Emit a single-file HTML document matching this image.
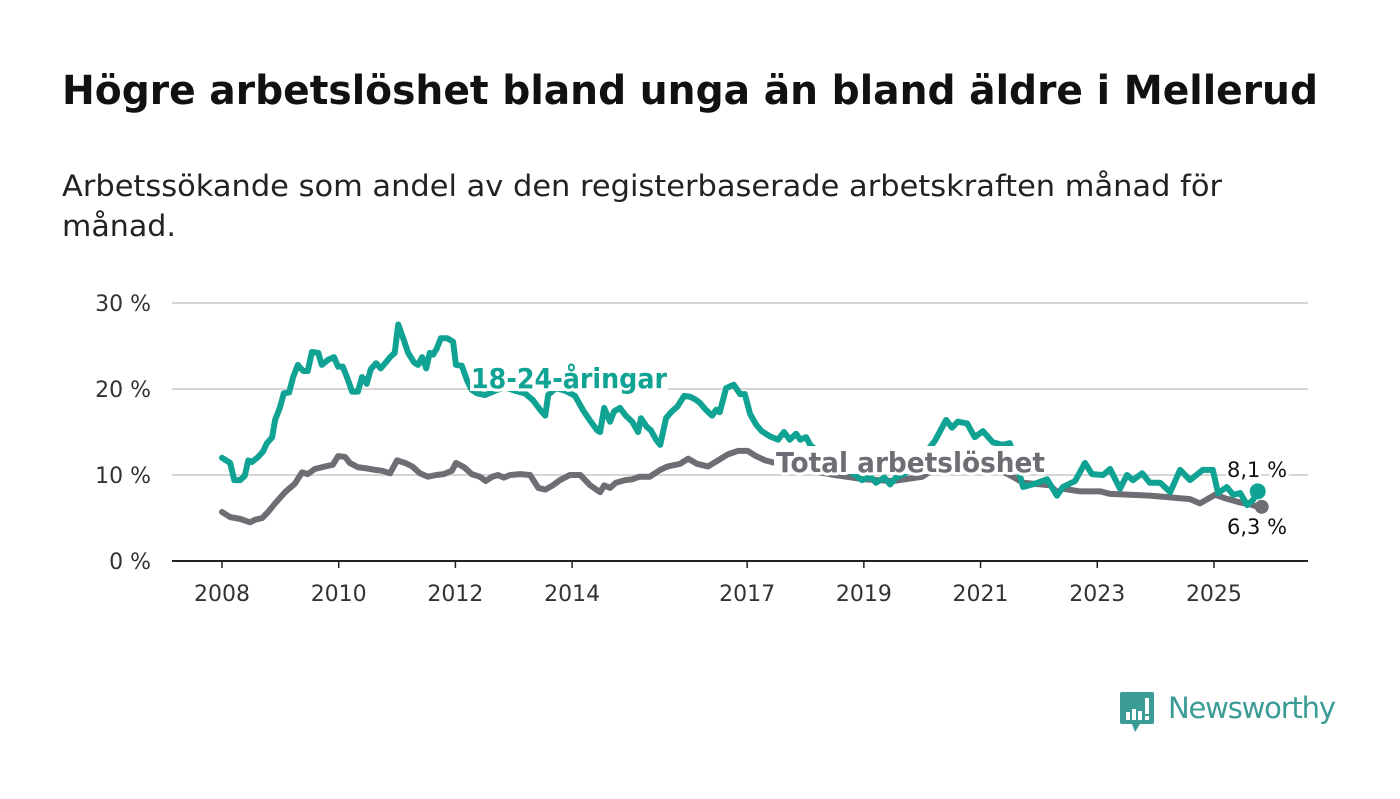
<!DOCTYPE html>
<html><head><meta charset="utf-8">
<style>
body{margin:0;background:#fff;width:1400px;height:794px;overflow:hidden;font-family:"Liberation Sans","DejaVu Sans",sans-serif;}
</style></head>
<body>
<svg id="chart" width="1400" height="794" xmlns="http://www.w3.org/2000/svg">
<text x="62" y="104" font-size="40" font-weight="bold" fill="#111" font-family="DejaVu Sans, sans-serif" textLength="1256" lengthAdjust="spacingAndGlyphs">Högre arbetslöshet bland unga än bland äldre i Mellerud</text>
<text x="62" y="196" font-size="29" fill="#222" font-family="DejaVu Sans, sans-serif" textLength="1160" lengthAdjust="spacingAndGlyphs">Arbetssökande som andel av den registerbaserade arbetskraften månad för</text>
<text x="62" y="236" font-size="29" fill="#222" font-family="DejaVu Sans, sans-serif" textLength="114" lengthAdjust="spacingAndGlyphs">månad.</text>
<g id="grid"></g><g id="series"></g><g id="labels"></g>
<g>
<path d="M1122 692 h30 a2 2 0 0 1 2 2 v28 a2 2 0 0 1 -2 2 h-12 l-5 8 l-3 -8 h-10 a2 2 0 0 1 -2 -2 v-28 a2 2 0 0 1 2 -2z" fill="#3a9c94"/>
<rect x="1126" y="712" width="4" height="8" fill="#fff"/><rect x="1132" y="709" width="4" height="11" fill="#fff"/><rect x="1138" y="711" width="4" height="9" fill="#fff"/><rect x="1145" y="698" width="4" height="16" fill="#fff"/><rect x="1145" y="716" width="4" height="4" fill="#fff"/>
<text x="1168" y="718" font-size="29" fill="#3a9c94" font-family="DejaVu Sans, sans-serif" textLength="168">Newsworthy</text>
</g>
</svg>
<script>
const yTicks=[0,10,20,30];
const xTickYears=[2008,2010,2012,2014,2017,2019,2021,2023,2025];
const youthDates=[2008.00,2008.14,2008.21,2008.31,2008.39,2008.45,2008.51,2008.62,2008.70,2008.77,2008.86,2008.91,2008.99,2009.06,2009.15,2009.22,2009.30,2009.39,2009.47,2009.54,2009.65,2009.71,2009.82,2009.92,2009.99,2010.07,2010.14,2010.23,2010.33,2010.40,2010.48,2010.55,2010.64,2010.72,2010.81,2010.88,2010.96,2011.02,2011.10,2011.19,2011.29,2011.36,2011.43,2011.50,2011.56,2011.62,2011.68,2011.75,2011.86,2011.96,2012.01,2012.11,2012.20,2012.28,2012.37,2012.51,2012.68,2012.85,2013.02,2013.19,2013.33,2013.45,2013.54,2013.59,2013.72,2013.88,2014.05,2014.19,2014.31,2014.43,2014.48,2014.55,2014.65,2014.72,2014.82,2014.92,2015.03,2015.13,2015.18,2015.28,2015.35,2015.44,2015.51,2015.61,2015.71,2015.81,2015.92,2016.02,2016.11,2016.19,2016.29,2016.40,2016.47,2016.53,2016.64,2016.77,2016.88,2016.96,2017.05,2017.15,2017.25,2017.39,2017.53,2017.63,2017.73,2017.84,2017.91,2018.01,2018.08,2018.25,2018.51,2018.73,2018.85,2018.97,2019.11,2019.21,2019.35,2019.45,2019.55,2019.71,2019.88,2020.05,2020.22,2020.41,2020.51,2020.61,2020.77,2020.90,2021.04,2021.21,2021.38,2021.50,2021.61,2021.73,2021.94,2022.14,2022.31,2022.41,2022.62,2022.79,2022.91,2023.10,2023.22,2023.39,2023.51,2023.61,2023.77,2023.90,2024.08,2024.25,2024.42,2024.59,2024.81,2024.98,2025.07,2025.22,2025.33,2025.45,2025.57,2025.67,2025.75];
const youthValues=[12.0,11.4,9.4,9.4,9.9,11.7,11.5,12.1,12.7,13.7,14.4,16.4,17.8,19.5,19.6,21.4,22.8,22.1,22.1,24.3,24.2,22.8,23.4,23.7,22.6,22.6,21.4,19.7,19.7,21.4,20.6,22.3,23.0,22.4,23.1,23.7,24.2,27.5,26.0,24.2,23.1,22.8,23.7,22.4,24.2,24.0,24.7,25.9,25.9,25.5,22.8,22.7,21.0,19.9,19.5,19.3,19.8,20.2,19.8,19.5,18.7,17.6,16.9,19.3,20.1,19.8,19.2,17.5,16.3,15.2,15.0,17.8,16.2,17.4,17.8,16.9,16.2,15.0,16.6,15.6,15.2,14.1,13.5,16.6,17.4,18.0,19.2,19.1,18.8,18.4,17.6,16.9,17.6,17.3,20.1,20.5,19.4,19.4,17.1,15.9,15.1,14.5,14.1,15.0,14.1,14.8,14.1,14.4,13.5,12.5,11.5,10.5,10.0,9.4,9.8,9.1,9.7,8.9,9.7,10.2,11.5,12.5,14.0,16.4,15.5,16.2,16.0,14.4,15.1,13.8,13.5,13.7,11.5,8.6,9.0,9.5,7.6,8.6,9.3,11.4,10.1,10.0,10.7,8.4,10.0,9.4,10.2,9.1,9.1,8.0,10.6,9.4,10.6,10.6,7.9,8.6,7.7,7.9,6.5,7.1,8.1];
const totalDates=[2008.00,2008.14,2008.31,2008.48,2008.57,2008.69,2008.79,2008.91,2009.08,2009.25,2009.37,2009.47,2009.59,2009.77,2009.90,2009.99,2010.11,2010.19,2010.33,2010.45,2010.62,2010.74,2010.88,2011.00,2011.14,2011.26,2011.39,2011.53,2011.67,2011.80,2011.94,2012.01,2012.15,2012.28,2012.42,2012.52,2012.63,2012.73,2012.83,2012.94,2013.11,2013.28,2013.42,2013.54,2013.67,2013.79,2013.96,2014.14,2014.31,2014.48,2014.55,2014.65,2014.75,2014.91,2015.03,2015.16,2015.33,2015.51,2015.64,2015.85,2015.99,2016.14,2016.33,2016.50,2016.67,2016.84,2017.01,2017.15,2017.31,2017.60,2018.00,2018.50,2019.00,2019.50,2020.00,2020.40,2020.80,2021.20,2021.50,2021.73,2022.19,2022.31,2022.41,2022.70,2023.05,2023.22,2023.56,2023.90,2024.25,2024.59,2024.76,2025.02,2025.19,2025.45,2025.62,2025.75];
const totalValues=[5.7,5.1,4.9,4.5,4.8,5.0,5.7,6.7,8.0,9.0,10.3,10.1,10.7,11.0,11.2,12.2,12.1,11.4,10.9,10.8,10.6,10.5,10.2,11.7,11.4,11.0,10.2,9.8,10.0,10.1,10.5,11.4,10.9,10.1,9.8,9.3,9.8,10.0,9.7,10.0,10.1,10.0,8.5,8.3,8.8,9.4,10.0,10.0,8.8,8.0,8.8,8.5,9.1,9.4,9.5,9.8,9.8,10.6,11.0,11.3,11.9,11.3,11.0,11.7,12.4,12.8,12.8,12.2,11.7,11.2,10.6,10.0,9.5,9.3,9.8,11.5,11.8,11.0,10.0,9.1,8.8,8.0,8.4,8.1,8.1,7.8,7.7,7.6,7.4,7.2,6.7,7.7,7.3,6.8,6.6,6.3];
const NS="http://www.w3.org/2000/svg";
const X=t=>222+(t-2008)*58.35;
const Y=v=>561-v*8.6;
function mk(tag,attrs,parent){const e=document.createElementNS(NS,tag);for(const k in attrs)e.setAttribute(k,attrs[k]);parent.appendChild(e);return e;}
const grid=document.getElementById('grid');
yTicks.forEach(v=>{
  const l=mk('line',{x1:172,x2:1308,y1:Y(v),y2:Y(v),stroke:v===0?'#222':'#d6d6d6','stroke-width':2},grid);
  
  
  const t=mk('text',{x:151,y:Y(v)+8,'text-anchor':'end','font-size':22,fill:'#333','font-family':'DejaVu Sans, sans-serif'},grid);
  t.textContent=v+' %';
  
  
});
xTickYears.forEach(yr=>{
  const tk=mk('line',{x1:X(yr),x2:X(yr),y1:561,y2:568,stroke:'#222','stroke-width':1.5},grid);
  
  
  const t=mk('text',{x:X(yr),y:601,'text-anchor':'middle','font-size':22,fill:'#333','font-family':'DejaVu Sans, sans-serif'},grid);
  t.textContent=yr;
  
  
});
const ser=document.getElementById('series');
function line(d,v,col,name){
  const p=mk('polyline',{points:d.map((t,i)=>X(t)+','+Y(v[i])).join(' '),fill:'none',stroke:col,'stroke-width':6,'stroke-linejoin':'round','stroke-linecap':'round'},ser);
  
  
}
line(totalDates,totalValues,'#6f6d74','total-line');
line(youthDates,youthValues,'#10a393','youth-line');
const lt=totalDates.length-1, ly=youthDates.length-1;
const d1=mk('circle',{cx:X(totalDates[lt])+4,cy:Y(totalValues[lt]),r:7,fill:'#6f6d74'},ser);


const d2=mk('circle',{cx:X(youthDates[ly]),cy:Y(youthValues[ly]),r:8,fill:'#10a393'},ser);


const lab=document.getElementById('labels');
const bg1=mk('rect',{x:470,y:364,width:198,height:27,fill:'#fff'},lab);


const bg2=mk('rect',{x:774,y:446,width:274,height:28,fill:'#fff'},lab);


function txt(x,y,s,col,size,w,name,halo,len){
  const t=mk('text',{x:x,y:y,'font-size':size,'font-weight':w,fill:col,'font-family':'DejaVu Sans, sans-serif'},lab);
  if(len){t.setAttribute('textLength',len);t.setAttribute('lengthAdjust','spacingAndGlyphs');}
  if(halo){t.setAttribute('stroke','#fff');t.setAttribute('stroke-width',6);t.setAttribute('paint-order','stroke');t.setAttribute('stroke-linejoin','round');}
  t.textContent=s;
  
  
}
txt(471,388,'18-24-åringar','#10a393',28,'bold','youth-series-label',true,196);
txt(776,472,'Total arbetslöshet','#6f6d74',28,'bold','total-series-label',true,269);
txt(1227,477,'8,1 %','#111',21,'normal','youth-end-value',true,0);
txt(1227,534,'6,3 %','#111',21,'normal','total-end-value',true,0);
</script>
</body></html>
